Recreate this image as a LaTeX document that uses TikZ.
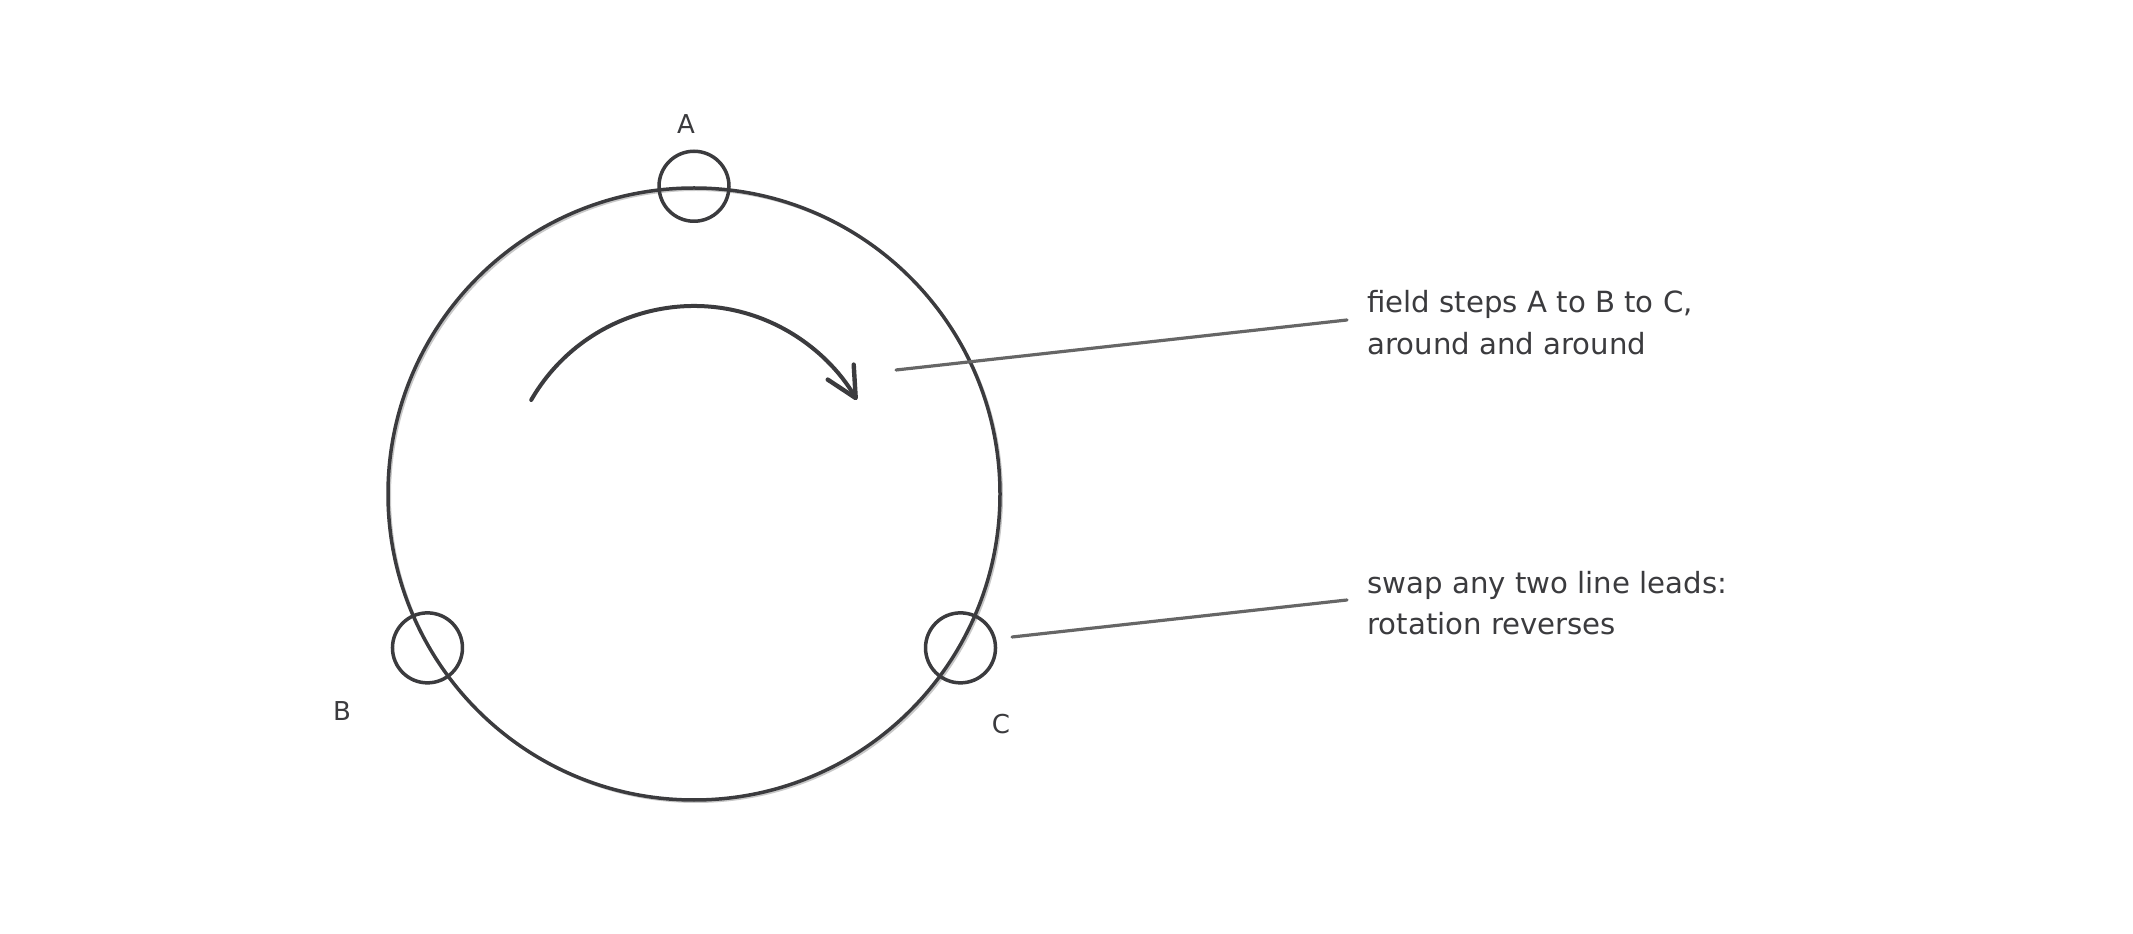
\documentclass[tikz,border=0pt]{standalone}
\usepackage{fontspec}
\setmainfont{DejaVu Sans}
\usetikzlibrary{arrows.meta}
\definecolor{ink}{HTML}{3B3B3E}
\definecolor{lead}{HTML}{666666}
\definecolor{shade}{HTML}{C8C8C8}
\tikzset{
  ringstyle/.style={circle,draw=ink,line width=1.75pt,minimum size=612*0.5pt,inner sep=0pt},
  polestyle/.style={circle,draw=ink,line width=1.75pt,minimum size=70*0.5pt,inner sep=0pt},
  polelabel/.style={text=ink,font=\fontsize{13}{15}\selectfont,inner sep=0pt},
  note/.style={text=ink,font=\fontsize{14.6}{21}\selectfont,align=left,anchor=base west,inner sep=0pt},
  leader/.style={draw=lead,line width=1.6pt,line cap=round},
  turn/.style={draw=ink,line width=2pt,line cap=round,-{Straight Barb[length=15pt,width=15pt,line width=2.2pt,round]}}
}
\begin{document}
\begin{tikzpicture}[x=0.5pt,y=0.5pt]
\useasboundingbox (0,0) rectangle (2133,933);
% faint shadow of ring
\node[circle,draw=shade,line width=1pt,minimum size=612*0.5pt,inner sep=0pt] (ringshade) at (696,437) {};
\node[ringstyle] (ring) at (694,439) {};
\node[polestyle] (pa) at (ring.90) {};
\node[polestyle] (pb) at (ring.210) {};
\node[polestyle] (pc) at (ring.-30) {};
\node[polelabel] (la) at (686,809) {A};
\node[polelabel] (lb) at (342,222) {B};
\node[polelabel] (lc) at (1001,209) {C};
% rotation arrow
\coordinate (arcstart) at ([shift={(150:188)}]ring.center);
\draw[turn] (arcstart) arc[start angle=150,end angle=30,radius=188];
% notes (anchor = baseline of last line)
\node[note] (n1) at (1367,578) {field steps A to B to C,\\around and around};
\node[note] (n2) at (1367,298) {swap any two line leads:\\rotation reverses};
\coordinate (l1a) at (896,563);
\coordinate (l1b) at (1347,613);
\coordinate (l2a) at (1012,296);
\coordinate (l2b) at (1347,333);
\draw[leader] (l1a) -- (l1b);
\draw[leader] (l2a) -- (l2b);
\end{tikzpicture}
\end{document}
